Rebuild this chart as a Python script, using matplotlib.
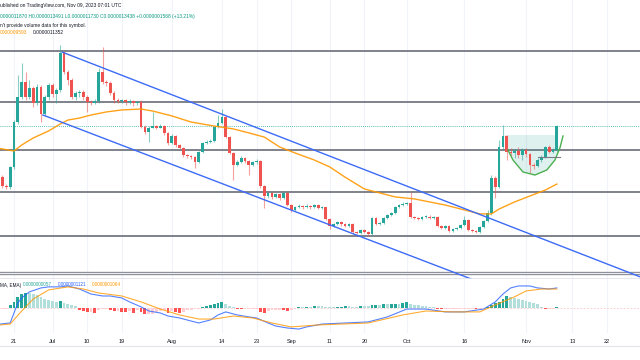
import numpy as np
import pandas as pd
import matplotlib
matplotlib.use("Agg")
import matplotlib.pyplot as plt

plt.rcParams["font.family"] = ["Liberation Sans", "DejaVu Sans"]

# ---------------- data (prices in units of 1e-9) ----------------
base = pd.Timestamp("2023-06-21")
first_day = -3  # first candle: Jun 18

opens = [1011, 952, 948, 1077, 1370, 1534, 1632, 1534, 1592, 1494,
         1599, 1423, 1534, 1612, 1553, 1579, 1821, 1697, 1645, 1534,
         1560, 1566, 1534, 1501, 1494, 1507, 1697, 1632, 1625, 1560,
         1514, 1507, 1514, 1501, 1507, 1494, 1501, 1338, 1305, 1331,
         1344, 1334, 1344, 1299, 1233, 1279, 1220, 1201, 1155, 1148,
         1142, 1109, 1174, 1233, 1240, 1246, 1338, 1364, 1403, 1272,
         1168, 1090, 1109, 1135, 1116, 1090, 1109, 1116, 952, 887,
         907, 881, 900, 874, 907, 828, 796, 815, 822, 815,
         822, 815, 828, 809, 812, 737, 691, 704, 717, 704,
         691, 704, 652, 646, 665, 652, 639, 744, 704, 711,
         744, 763, 776, 815, 828, 835, 841, 750, 744, 737,
         750, 753, 744, 750, 691, 678, 691, 658, 672, 678,
         698, 730, 665, 658, 652, 685, 724, 776, 1005, 946,
         1207, 1279, 1174, 1168, 1181, 1155, 1187, 1161, 1090, 1083,
         1122, 1142, 1207, 1174, 1187]
closes = [952, 948, 1077, 1370, 1534, 1632, 1534, 1592, 1494, 1599,
          1423, 1534, 1612, 1553, 1579, 1821, 1697, 1645, 1534, 1560,
          1566, 1534, 1501, 1494, 1507, 1697, 1632, 1625, 1560, 1514,
          1507, 1514, 1501, 1507, 1494, 1501, 1338, 1305, 1331, 1344,
          1334, 1344, 1299, 1233, 1279, 1220, 1201, 1155, 1148, 1142,
          1109, 1174, 1233, 1240, 1246, 1338, 1364, 1403, 1272, 1168,
          1090, 1109, 1135, 1116, 1090, 1109, 1116, 952, 887, 907,
          881, 900, 874, 907, 828, 796, 815, 822, 815, 822,
          815, 828, 809, 812, 737, 691, 704, 717, 704, 691,
          704, 652, 646, 665, 652, 639, 744, 704, 711, 744,
          763, 776, 815, 828, 835, 841, 750, 744, 737, 750,
          753, 744, 750, 691, 678, 691, 658, 672, 678, 698,
          730, 665, 658, 652, 685, 724, 776, 1005, 946, 1207,
          1279, 1174, 1168, 1181, 1155, 1187, 1161, 1090, 1083, 1122,
          1142, 1207, 1174, 1187, 1344]
highs = [1024, 965, 1083, 1383, 1677, 1756, 1697, 1645, 1605, 1618,
         1612, 1547, 1625, 1625, 1592, 1873, 1834, 1710, 1658, 1573,
         1579, 1579, 1547, 1514, 1521, 1723, 1860, 1645, 1638, 1573,
         1527, 1521, 1521, 1521, 1514, 1507, 1514, 1351, 1344, 1436,
         1351, 1357, 1351, 1305, 1292, 1285, 1227, 1207, 1161, 1155,
         1148, 1181, 1240, 1253, 1259, 1344, 1416, 1455, 1410, 1279,
         1174, 1122, 1148, 1142, 1122, 1116, 1129, 1122, 959, 913,
         913, 907, 907, 913, 913, 835, 822, 835, 828, 835,
         828, 835, 835, 822, 815, 744, 711, 724, 724, 711,
         711, 711, 658, 672, 672, 658, 750, 750, 717, 750,
         770, 783, 822, 835, 848, 848, 913, 757, 750, 757,
         763, 760, 757, 757, 698, 698, 698, 678, 685, 704,
         757, 737, 672, 665, 691, 730, 796, 1024, 1018, 1253,
         1351, 1285, 1201, 1194, 1207, 1201, 1201, 1168, 1103, 1135,
         1155, 1214, 1220, 1201, 1349]
lows = [939, 933, 933, 1063, 1357, 1521, 1514, 1521, 1468, 1481,
        1370, 1410, 1514, 1534, 1494, 1566, 1684, 1612, 1521, 1514,
        1534, 1514, 1436, 1481, 1488, 1494, 1618, 1605, 1547, 1494,
        1494, 1494, 1481, 1488, 1475, 1481, 1331, 1292, 1240, 1331,
        1325, 1331, 1285, 1220, 1227, 1207, 1194, 1142, 1135, 1129,
        1070, 1103, 1168, 1227, 1233, 1240, 1331, 1357, 1266, 1161,
        992, 1083, 1103, 1103, 1024, 1083, 1096, 939, 809, 874,
        868, 874, 861, 868, 822, 783, 789, 809, 802, 809,
        802, 809, 802, 802, 730, 672, 685, 698, 691, 685,
        685, 646, 639, 639, 646, 626, 633, 698, 698, 704,
        737, 757, 770, 809, 822, 828, 744, 737, 730, 730,
        744, 737, 737, 685, 672, 672, 652, 652, 665, 672,
        691, 658, 652, 646, 646, 678, 717, 763, 874, 939,
        1194, 1122, 1148, 1135, 1135, 1122, 1142, 1037, 1063, 1077,
        1109, 1135, 1168, 1168, 1173]

# moving average (day offset from Jun 21, price)
ma_days = [-3.6, 0, 2, 5, 9, 12, 14, 17, 20, 24, 28, 33, 36, 41, 46, 52, 57, 61, 65,
           69, 73, 78, 82, 86, 91, 95, 99, 104, 108, 112, 117, 121, 124, 126, 130,
           134, 138, 141]
ma_vals = [1197, 1181, 1220, 1266, 1312, 1357, 1383, 1396, 1416, 1436, 1449, 1455,
           1442, 1410, 1370, 1344, 1325, 1299, 1272, 1207, 1168, 1122, 1077, 1010,
           933, 907, 881, 868, 848, 828, 796, 770, 770, 802, 848, 887, 926, 965]

# drawings
levels = [1837, 1503, 1187, 910, 628]
bottom_level = 381
last_price = 1344
upper_days, upper_vals = [12.5, 165], [1827, 336]
lower_days, lower_vals = [7.5, 125], [1416, 285]
cup_days = [128.3, 129.6, 132.2, 135.3, 138.4, 140.5, 141.8, 142.6]
cup_vals = [1187, 1122, 1044, 1024, 1057, 1122, 1201, 1279]
box_days, box_top = [127.5, 141.0], 1285
mark_days, mark_val = [136.0, 141.8], 1142

# MACD pane (units of 1e-9)
macd_days = [-3.6, -1, 1, 2, 4, 7, 9, 12, 14, 17, 20, 23, 25, 28, 30, 33, 35, 38, 40,
             43, 46, 48, 51, 53, 55, 58, 61, 63, 66, 68, 71, 74, 76, 80, 86, 92, 97,
             102, 107, 112, 117, 122, 125, 127, 129, 131, 134, 136, 139, 141]
macd_vals = [-90, -84, 28, 56, 90, 112, 118, 118, 123, 106, 78, 67, 67, 56, 34, 6, -17,
             -28, -45, -56, -73, -84, -67, -39, -22, -39, -50, -56, -84, -101, -112,
             -118, -106, -90, -84, -78, -50, -6, -6, -22, -22, -6, 34, 78, 112, 123,
             123, 112, 106, 112]
signal_days = [-3.6, -1, 2, 5, 9, 14, 18, 22, 28, 33, 38, 43, 48, 52, 57, 62, 67, 72,
               79, 92, 101, 107, 114, 121, 125, 130, 133, 137, 141]
signal_vals = [-95, -90, -17, 50, 101, 118, 106, 84, 67, 34, -6, -39, -62, -62, -45,
               -56, -84, -106, -95, -84, -39, -17, -22, -22, 17, 62, 95, 106, 106]
hist = [-8, -8, 17, 34, 62, 78, 84, 84, 78, 73,
        62, 50, 45, 39, 34, 39, 28, 22, 17, 11,
        -11, -17, -22, -22, -28, -11, -8, -8, -11, -17,
        -17, -20, -22, -17, -28, -11, -22, -34, -34, -34,
        -22, -17, -11, -28, -17, -22, -28, -22, -14, -11,
        -8, -4, 6, 11, 17, 22, 28, 31, 22, 11,
        3, -6, -7, -7, -7, -7, -7, -22, -28, -17,
        -14, -14, -10, -11, -17, -10, -6, 4, 4, 6,
        6, 10, 10, 10, 4, 3, 3, 4, 8, 10,
        10, 4, 4, 10, 10, 10, 15, 18, 18, 21,
        21, 22, 24, 24, 28, 34, 22, 18, 15, 11,
        10, 6, 6, -3, -7, -7, -6, -4, -4, -4,
        -4, -4, -4, -6, -4, -2, 6, 15, 30, 36,
        50, 67, 62, 56, 50, 45, 39, 34, 28, 20,
        6, -4, -4, -4, 6]

tick_dates = ["2023-06-21", "2023-07-01", "2023-07-10", "2023-07-19", "2023-08-01",
              "2023-08-14", "2023-08-23", "2023-09-01", "2023-09-11", "2023-09-20",
              "2023-10-01", "2023-10-16", "2023-11-01", "2023-11-13", "2023-11-22"]
tick_labels = ["21", "Jul", "10", "19", "Aug", "14", "23", "Sep", "11", "20",
               "Oct", "16", "Nov", "13", "22"]

# ---------------- styling ----------------
UP, DOWN = "#26a69a", "#ef5350"
TEXT = "#131722"
GRID = "#f0f3fa"

W, H = 640, 360
def fy(y):
    return 1 - y / H

fig = plt.figure(figsize=(6.4, 3.6), dpi=100)
fig.patch.set_facecolor("white")
ax = fig.add_axes([0, fy(279), 1, 279 / H])
axm = fig.add_axes([0, fy(333), 1, (333 - 279) / H])

xlim = (-14 / 3.85, 626 / 3.85)
tick_pos = [(pd.Timestamp(t) - base).days for t in tick_dates]

for a in (ax, axm):
    a.set_xlim(*xlim)
    for s in a.spines.values():
        s.set_visible(False)
    a.set_yticks([])
    for t in tick_pos:
        a.axvline(t, color=GRID, lw=0.8, zorder=0)

ax.set_ylim(345, 2167)
ax.set_xticks([])

# horizontal levels
for lv in levels:
    ax.axhline(lv, color="#6a6d78", lw=1.2, zorder=2)
ax.axhline(bottom_level, color="#8f929b", lw=2.4, zorder=2)
ax.axhline(bottom_level, color="white", lw=0.6, zorder=2)
ax.axhline(last_price, color=UP, lw=0.6, ls=(0, (1, 1.5)), zorder=2)

# candles
days = np.arange(first_day, first_day + len(closes))
o = np.array(opens, float); c = np.array(closes, float)
h = np.array(highs, float); l = np.array(lows, float)
up = c >= o
cols = np.where(up, UP, DOWN)
ax.vlines(days, l, h, colors=cols, lw=0.8, alpha=0.55, zorder=3)
body_lo = np.minimum(o, c)
body_h = np.maximum(np.abs(c - o), 6)
ax.bar(days, body_h, bottom=body_lo, width=0.72, color=cols, zorder=4, linewidth=0)

# moving average
ax.plot(ma_days, ma_vals, color="#ff9800", lw=1.0, alpha=0.9, zorder=5)

# channel
ax.plot(upper_days, upper_vals, color="#3d6bf5", lw=1.0, zorder=5)
ax.plot(lower_days, lower_vals, color="#3d6bf5", lw=1.0, zorder=5)

# cup drawing
cd = np.array(cup_days); cv = np.array(cup_vals)
inside = cd <= box_days[1]
rv = np.interp(box_days[1], cd, cv)
poly_x = [box_days[0], box_days[1], box_days[1]] + list(cd[inside][::-1]) + [box_days[0]]
poly_y = [box_top, box_top, rv] + list(cv[inside][::-1]) + [cv[0]]
ax.fill(poly_x, poly_y, color="#26a69a", alpha=0.15, lw=0, zorder=2)
ax.plot(cd, cv, color="#4caf50", lw=1.0, zorder=5)
ax.plot(mark_days, [mark_val, mark_val], color="#787b86", lw=0.8, zorder=5)

# MACD pane
axm.set_ylim(-140, 162)
axm.axhline(0, color="#f7c5c9", lw=0.6, ls=(0, (2, 2)), zorder=1)
hv = np.array(hist, float)
prev = np.concatenate([[hv[0]], hv[:-1]])
hcols = []
for v, p in zip(hv, prev):
    if v >= 0:
        hcols.append("#26a69a" if v > p else "#b2dfdb")
    else:
        hcols.append("#ff5252" if v < p else "#ffcdd2")
axm.bar(days, hv, width=0.75, color=hcols, linewidth=0, zorder=2)
axm.plot(macd_days, macd_vals, color="#2962ff", lw=0.8, alpha=0.8, zorder=3)
axm.plot(signal_days, signal_vals, color="#ff9800", lw=0.8, alpha=0.8, zorder=3)

axm.set_xticks(tick_pos)
axm.set_xticklabels(tick_labels, fontsize=4.0, color=TEXT)
axm.tick_params(axis="x", length=0, pad=4)

# separators
fig.add_artist(plt.Line2D([0, 1], [fy(277.5), fy(277.5)], color="#e0e3eb", lw=0.6))
fig.add_artist(plt.Line2D([0, 1], [fy(346), fy(346)], color="#e0e3eb", lw=0.8))

# header texts
fs = 3.5
fig.text(0.0, fy(5.7), "ublished on TradingView.com, Nov 09, 2023 07:01 UTC",
         fontsize=fs, color=TEXT, va="center", ha="left")
fig.text(0.0, fy(16.8), "0000011870 H0.0000013491 L0.0000011730 C0.0000013438 +0.0000001568 (+13.21%)",
         fontsize=fs, color="#089981", va="center", ha="left")
fig.text(0.0, fy(25), "n't provide volume data for this symbol.",
         fontsize=fs, color=TEXT, va="center", ha="left")
fig.text(0.0, fy(32.3), "0000009593", fontsize=fs, color="#ff9800", va="center", ha="left")
fig.text(33 / W, fy(32.3), "0.0000011352", fontsize=fs, color=TEXT, va="center", ha="left")

# MACD legend
lfs = 3.3
fig.text(0.0, fy(285), "MA, EMA)", fontsize=lfs, color=TEXT, va="center", ha="left")
fig.text(23 / W, fy(285), "0.0000000057", fontsize=lfs, color="#26a69a", va="center", ha="left")
fig.text(58 / W, fy(285), "0.0000001121", fontsize=lfs, color="#2962ff", va="center", ha="left")
fig.text(92 / W, fy(285), "0.0000001064", fontsize=lfs, color="#ff9800", va="center", ha="left")

fig.savefig("out.png", dpi=100)
